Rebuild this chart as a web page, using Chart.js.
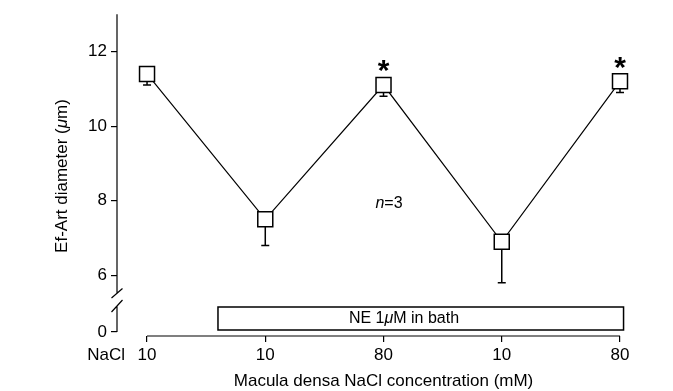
<!DOCTYPE html>
<html>
<head>
<meta charset="utf-8">
<script src="https://cdn.jsdelivr.net/npm/chart.js@4.4.1/dist/chart.umd.min.js"></script>
<style>
  html, body { margin: 0; padding: 0; background: #fff; }
  canvas { display: block; }
</style>
</head>
<body>
<canvas id="diameterChart" width="673" height="391"></canvas>
<script>
// NaCl concentration at the macula densa for each period (mM)
const categories = ['10', '10', '80', '10', '80'];
// Efferent arteriole diameter, mean and SEM (um)
const meanDiameter = [11.4, 7.5, 11.1, 6.9, 11.2];
const semDiameter = [0.3, 0.7, 0.3, 1.1, 0.3];
const significance = ['', '', '*', '', '*'];
const yTickValues = [6, 8, 10, 12];
const yBreakLabel = '0';

// value on the broken axis where the "0" tick sits
const BREAK_AT = 4.48;
const FONT = 'Liberation Sans, Arial, Helvetica, sans-serif';

function drawRich(ctx, parts, x, y, size, align) {
    let total = 0;
    parts.forEach(function(p) {
        ctx.font = (p[1] ? 'italic ' : '') + size + 'px ' + FONT;
        total += ctx.measureText(p[0]).width;
    });
    let cx = align === 'center' ? x - total / 2 : x;
    ctx.textAlign = 'left';
    ctx.textBaseline = 'middle';
    parts.forEach(function(p) {
        ctx.font = (p[1] ? 'italic ' : '') + size + 'px ' + FONT;
        ctx.fillText(p[0], cx, y);
        cx += ctx.measureText(p[0]).width;
    });
}

const errorBars = {
    id: 'errorBars',
    beforeDatasetsDraw(chart) {
        const ctx = chart.ctx, x = chart.scales.x, y = chart.scales.y;
        ctx.save();
        ctx.strokeStyle = '#000';
        ctx.lineWidth = 1.5;
        meanDiameter.forEach(function(m, i) {
            const px = x.getPixelForValue(i);
            const top = y.getPixelForValue(m);
            const bottom = y.getPixelForValue(m - semDiameter[i]);
            ctx.beginPath();
            ctx.moveTo(px, top);
            ctx.lineTo(px, bottom);
            ctx.moveTo(px - 4, bottom);
            ctx.lineTo(px + 4, bottom);
            ctx.stroke();
        });
        ctx.restore();
    }
};

const decorations = {
    id: 'decorations',
    afterDraw(chart) {
        const ctx = chart.ctx, x = chart.scales.x, y = chart.scales.y;
        const area = chart.chartArea;
        ctx.save();
        ctx.strokeStyle = '#000';
        ctx.fillStyle = '#000';
        ctx.lineWidth = 1.2;

        // y axis with break
        const ax = area.left;
        const zeroPx = y.getPixelForValue(BREAK_AT);
        const upperEnd = zeroPx - 39, lowerStart = zeroPx - 26;
        ctx.beginPath();
        ctx.moveTo(ax, area.top);
        ctx.lineTo(ax, upperEnd);
        ctx.moveTo(ax, lowerStart);
        ctx.lineTo(ax, zeroPx);
        ctx.moveTo(ax - 5.5, upperEnd + 5);
        ctx.lineTo(ax + 5.5, upperEnd - 4.5);
        ctx.moveTo(ax - 5.5, lowerStart + 6);
        ctx.lineTo(ax + 5.5, lowerStart - 6);
        ctx.stroke();

        // x axis baseline
        const first = x.getPixelForValue(0), last = x.getPixelForValue(categories.length - 1);
        ctx.beginPath();
        ctx.moveTo(first, area.bottom);
        ctx.lineTo(last, area.bottom);
        ctx.stroke();

        // NE bar
        const bx0 = x.getPixelForValue(0.6), bx1 = x.getPixelForValue(4.03);
        ctx.lineWidth = 1.5;
        ctx.strokeRect(bx0, area.bottom - 29, bx1 - bx0, 23);
        drawRich(ctx, [['NE 1', false], ['\u03bc', true], ['M in bath', false]], 404, area.bottom - 17.5, 16, 'center');

        // significance marks
        ctx.font = 'bold 30px ' + FONT;
        ctx.textAlign = 'center';
        ctx.textBaseline = 'middle';
        significance.forEach(function(s, i) {
            if (!s) return;
            ctx.fillText(s, x.getPixelForValue(i), y.getPixelForValue(meanDiameter[i]) - 13);
        });

        drawRich(ctx, [['n', true], ['=3', false]], x.getPixelForValue(2.05) - 14, y.getPixelForValue(7.92), 16, 'left');

        // axis titles
        ctx.font = '17px ' + FONT;
        ctx.textAlign = 'right';
        ctx.textBaseline = 'middle';
        ctx.fillText('NaCl', 125, 355);
        ctx.textAlign = 'center';
        ctx.fillText('Macula densa NaCl concentration (mM)', (first + last) / 2, 381);

        ctx.save();
        ctx.translate(62, 176);
        ctx.rotate(-Math.PI / 2);
        drawRich(ctx, [['Ef-Art diameter (', false], ['\u03bc', true], ['m)', false]], 0, 0, 17, 'center');
        ctx.restore();

        ctx.restore();
    }
};

document.addEventListener('DOMContentLoaded', function() {
    const ctx = document.getElementById('diameterChart');

    new Chart(ctx.getContext('2d'), {
        type: 'line',
        data: {
            datasets: [{
                data: meanDiameter.map(function(v, i) { return { x: i, y: v }; }),
                clip: false,
                borderColor: '#000',
                borderWidth: 1.2,
                tension: 0,
                pointStyle: 'rect',
                pointRadius: 10.6,
                pointBackgroundColor: '#fff',
                pointBorderColor: '#000',
                pointBorderWidth: 1.5
            }]
        },
        options: {
            responsive: false,
            animation: false,
            layout: { padding: { left: 0, top: 13, right: 53, bottom: 0 } },
            plugins: {
                legend: { display: false },
                tooltip: { enabled: false }
            },
            scales: {
                x: {
                    type: 'linear',
                    min: -0.254,
                    max: categories.length - 1,
                    afterBuildTicks: function(scale) {
                        scale.ticks = categories.map(function(c, i) { return { value: i }; });
                    },
                    afterFit: function(scale) { scale.height = 55; },
                    border: { display: false },
                    grid: { drawOnChartArea: false, drawTicks: true, tickLength: 6, color: '#000', lineWidth: 1.2 },
                    ticks: {
                        color: '#000',
                        font: { family: FONT, size: 17 },
                        padding: 3,
                        maxRotation: 0,
                        autoSkip: false,
                        callback: function(v, i) { return categories[i]; }
                    }
                },
                y: {
                    min: 4.373,
                    max: 13,
                    afterBuildTicks: function(scale) {
                        scale.ticks = [BREAK_AT].concat(yTickValues).map(function(v) { return { value: v }; });
                    },
                    afterFit: function(scale) { scale.width = 117; },
                    border: { display: false },
                    grid: { drawOnChartArea: false, drawTicks: true, tickLength: 6, color: '#000', lineWidth: 1.2 },
                    ticks: {
                        color: '#000',
                        font: { family: FONT, size: 17 },
                        padding: 4,
                        callback: function(v) { return v === BREAK_AT ? yBreakLabel : v; }
                    }
                }
            }
        },
        plugins: [errorBars, decorations]
    });
});
</script>
</body>
</html>
